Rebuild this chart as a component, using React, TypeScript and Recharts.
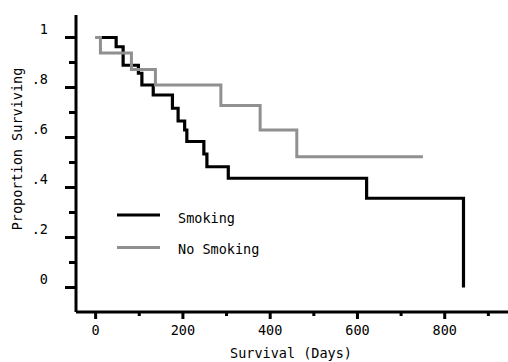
import { LineChart, Line, XAxis, YAxis, Legend } from 'recharts';

// Smoking group (Kaplan-Meier, step after)
const smokingDays = [0, 47, 63, 98, 106, 132, 176, 189, 204, 209, 248, 255, 304, 621, 843];
const smokingSurv = [1, 0.963, 0.889, 0.857, 0.81, 0.77, 0.717, 0.666, 0.63, 0.584, 0.534, 0.483, 0.437, 0.357, 0];

// No smoking group
const noSmokingDays = [0, 11, 82, 137, 287, 377, 461, 750];
const noSmokingSurv = [1, 0.938, 0.872, 0.81, 0.728, 0.63, 0.523, 0.523];

const seriesNames = ['Smoking', 'No Smoking'];

const xTicks = [0, 100, 200, 300, 400, 500, 600, 700, 800, 900];
const xTickLabels = ['0', '', '200', '', '400', '', '600', '', '800', ''];
const yTicks = [0, 0.1, 0.2, 0.3, 0.4, 0.5, 0.6, 0.7, 0.8, 0.9, 1];
const yTickLabels = ['0', '', '.2', '', '.4', '', '.6', '', '.8', '', '1'];

const smoking = smokingDays.map((d, i) => ({ day: d, surv: smokingSurv[i] }));
const noSmoking = noSmokingDays.map((d, i) => ({ day: d, surv: noSmokingSurv[i] }));

const FONT = "'DejaVu Sans Mono', monospace";
const AXIS_X = 76;
const AXIS_Y = 312;

function YTick(props: any) {
  const { y, index } = props;
  const label = yTickLabels[index];
  const major = label !== '';
  return (
    <g>
      <line x1={AXIS_X - (major ? 11 : 7)} x2={AXIS_X} y1={y} y2={y} stroke="#000" strokeWidth={3} />
      {major && (
        <text x={48} y={y - 9} textAnchor="end" dominantBaseline="central" fontFamily={FONT} fontSize={13.5} fill="#000">
          {label}
        </text>
      )}
    </g>
  );
}

function XTick(props: any) {
  const { x, index } = props;
  const label = xTickLabels[index];
  const major = label !== '';
  return (
    <g>
      <line x1={x} x2={x} y1={AXIS_Y} y2={AXIS_Y + (major ? 7 : 4)} stroke="#000" strokeWidth={3} />
      {major && (
        <text x={x} y={330} textAnchor="middle" dominantBaseline="central" fontFamily={FONT} fontSize={13.5} fill="#000">
          {label}
        </text>
      )}
    </g>
  );
}

function LegendBox(props: any) {
  const items = (props.payload || [])
    .slice()
    .sort((a: any, b: any) => seriesNames.indexOf(a.value) - seriesNames.indexOf(b.value));
  return (
    <svg width={200} height={64}>
      {items.map((it: any, i: number) => (
        <g key={i}>
          <line x1={7} x2={50} y1={15 + i * 32.5} y2={15 + i * 32.5} stroke={it.color} strokeWidth={3} />
          <text x={68} y={18 + i * 31} dominantBaseline="central" fontFamily={FONT} fontSize={13.5} fill="#000">
            {it.value}
          </text>
        </g>
      ))}
    </svg>
  );
}

export default function App() {
  return (
    <div style={{ position: 'absolute', left: 0, top: 0, background: '#fff' }}>
      <LineChart width={508} height={362} margin={{ top: 15, right: 0, bottom: 10, left: 0 }}>
        <XAxis
          dataKey="day"
          type="number"
          domain={[-45, 945]}
          allowDataOverflow
          ticks={xTicks}
          tick={<XTick />}
          tickLine={false}
          height={40}
          axisLine={{ stroke: '#000', strokeWidth: 3 }}
          label={{
            content: () => (
              <text x={291} y={353} textAnchor="middle" dominantBaseline="central" fontFamily={FONT} fontSize={13.5} fill="#000">
                Survival (Days)
              </text>
            ),
          }}
        />
        <YAxis
          type="number"
          domain={[-0.098, 1.09]}
          allowDataOverflow
          ticks={yTicks}
          tick={<YTick />}
          tickLine={false}
          width={76}
          axisLine={{ stroke: '#000', strokeWidth: 3 }}
          label={{
            content: () => (
              <text
                x={17}
                y={149}
                textAnchor="middle"
                dominantBaseline="central"
                transform="rotate(-90 17 149)"
                fontFamily={FONT}
                fontSize={13.5}
                fill="#000"
              >
                Proportion Surviving
              </text>
            ),
          }}
        />
        <Legend
          layout="vertical"
          align="center"
          verticalAlign="middle"
          content={<LegendBox />}
          wrapperStyle={{ left: 110, top: 200, width: 200, height: 64 }}
        />
        <Line
          data={smoking}
          dataKey="surv"
          name="Smoking"
          type="stepAfter"
          stroke="#000"
          strokeWidth={3.2}
          dot={false}
          isAnimationActive={false}
        />
        <Line
          data={noSmoking}
          dataKey="surv"
          name="No Smoking"
          type="stepAfter"
          stroke="#909090"
          strokeWidth={3}
          dot={false}
          isAnimationActive={false}
        />
      </LineChart>
    </div>
  );
}
